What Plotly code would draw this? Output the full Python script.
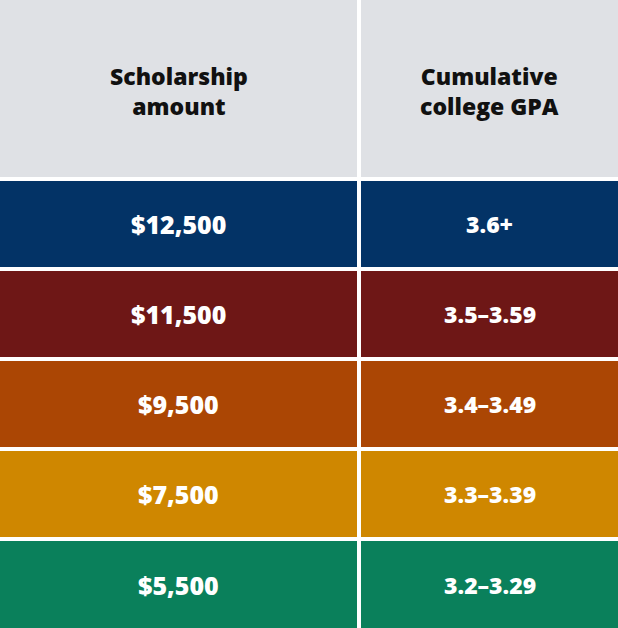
import plotly.graph_objects as go

headers = ["Scholarship<br>amount", "Cumulative<br>college GPA"]
amounts = ["$12,500", "$11,500", "$9,500", "$7,500", "$5,500"]
gpas = ["3.6+", "3.5–3.59", "3.4–3.49", "3.3–3.39", "3.2–3.29"]
row_colors = ["#033366", "#6e1716", "#ab4604", "#cf8700", "#0a805b"]
header_color = "#dfe1e5"

W, H = 618, 628
gap = 4
header_h = 177
row_h = 90
n = len(amounts)
cols = [(0, 357), (361, W)]

shapes, ann = [], []
font = dict(family="'Open Sans', sans-serif", weight=800)
for c, (x0, x1) in enumerate(cols):
    shapes.append(dict(type="rect", x0=x0, x1=x1, y0=0, y1=header_h, fillcolor=header_color,
                       line=dict(width=0), layer="below"))
    ann.append(dict(x=(x0 + x1) / 2, y=header_h / 2 + 2, text=headers[c], showarrow=False,
                    font=dict(font, color="#111111", size=23)))
    for i in range(n):
        y0 = header_h + gap + i * row_h
        y1 = min(y0 + row_h - gap, H) if i < n - 1 else H
        shapes.append(dict(type="rect", x0=x0, x1=x1, y0=y0, y1=y1, fillcolor=row_colors[i],
                           line=dict(width=0), layer="below"))
        txt = amounts[i] if c == 0 else gpas[i]
        ann.append(dict(x=(x0 + x1) / 2, y=(y0 + y1) / 2, text=txt, showarrow=False,
                        font=dict(font, color="white", size=25 if c == 0 else 23)))

fig = go.Figure()
fig.update_layout(width=W, height=H, margin=dict(l=0, r=0, t=0, b=0),
                  paper_bgcolor="white", plot_bgcolor="white", shapes=shapes, annotations=ann,
                  xaxis=dict(range=[0, W], visible=False, fixedrange=True),
                  yaxis=dict(range=[H, 0], visible=False, fixedrange=True),
                  showlegend=False)
fig.write_html("out.html", config={"displayModeBar": False},
               post_script="document.body.style.margin='0';")
